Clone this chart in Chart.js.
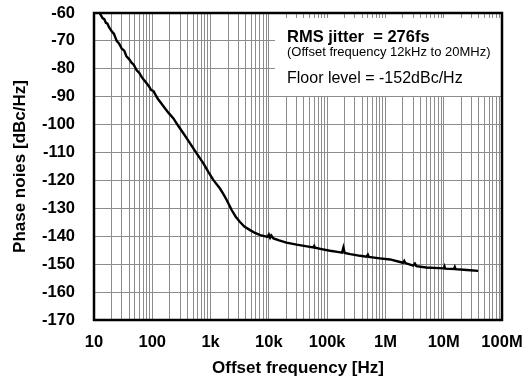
<!DOCTYPE html>
<html>
<head>
<meta charset="utf-8">
<script src="https://cdn.jsdelivr.net/npm/chart.js@4/dist/chart.umd.min.js"></script>
<style>
html,body{margin:0;padding:0;background:#fff;}
#c{display:block;}
</style>
</head>
<body>
<canvas id="c" width="523" height="383"></canvas>
<script>
// Offset frequency [Hz]
const freqHz = [12.5, 14, 15, 16, 17, 18, 20, 22, 24.5, 27, 30, 33, 36, 40, 44, 48, 54, 60, 66, 72, 80, 88, 95, 105, 115, 125, 136, 160, 190, 229, 280, 341, 420, 506, 620, 754, 920, 1120, 1440, 1650, 1890, 2300, 2700, 3170, 3800, 4760, 5800, 7100, 9500, 10000, 10500, 11000, 12000, 15000, 20000, 30000, 45000, 58000, 60000, 62000, 80000, 112000, 150000, 180000, 190000, 200000, 250000, 368000, 475000, 500000, 520000, 800000, 1200000, 2000000, 2100000, 2200000, 3000000, 3200000, 3400000, 5000000, 10000000, 10300000, 10600000, 15000000, 15500000, 16000000, 25000000, 39000000];
// Phase noise [dBc/Hz]
const phaseNoise = [-60, -61.8, -62.2, -63.5, -63.8, -65.0, -66.5, -67.5, -70, -71, -72.8, -73.5, -75.5, -76.5, -77.8, -78.5, -80.5, -81.5, -83, -84, -85.2, -86.3, -87.5, -88, -89.5, -90.8, -91.8, -93.8, -95.8, -97.7, -100.5, -103.1, -105.9, -108.5, -111.3, -113.9, -117, -119.9, -122.8, -124.8, -127.0, -130.6, -133, -134.8, -136.5, -137.8, -138.8, -139.6, -140.2, -139.4, -140.5, -139.7, -140.8, -141.5, -142.3, -143, -143.6, -144.0, -143.5, -144.1, -144.6, -145.2, -145.6, -145.9, -144.0, -146, -146.4, -147.0, -147.3, -146.6, -147.4, -147.9, -148.3, -149.5, -148.8, -149.6, -150.5, -149.8, -150.7, -151.2, -151.5, -150.8, -151.6, -151.7, -151.0, -151.8, -152.1, -152.4];

const xDecades = [10, 100, 1e3, 1e4, 1e5, 1e6, 1e7, 1e8];
const xDecadeLabels = ['10', '100', '1k', '10k', '100k', '1M', '10M', '100M'];
const xMinorMultipliers = [2, 3, 4, 5, 6, 7, 8, 9];
const yMin = -170, yMax = -60, yStep = 10;

const xLabel = 'Offset frequency [Hz]';
const yLabel = 'Phase noies [dBc/Hz]';
const noteLines = ['RMS jitter  = 276fs', '(Offset frequency 12kHz to 20MHz)', 'Floor level = -152dBc/Hz'];

const FONT = "'Liberation Sans', Arial, sans-serif";

const noteBox = {
  id: 'noteBox',
  beforeDatasetsDraw(chart) {
    const a = chart.chartArea, ctx = chart.ctx;
    ctx.save();
    ctx.fillStyle = '#ffffff';
    ctx.fillRect(a.left + 181, a.top + 5, a.right - a.left - 182, 78);
    ctx.fillStyle = '#000';
    ctx.textAlign = 'left';
    ctx.textBaseline = 'alphabetic';
    const tx = a.left + 193;
    ctx.font = "bold 16.5px " + FONT;
    ctx.fillText(noteLines[0], tx, a.top + 29);
    ctx.font = "13px " + FONT;
    ctx.fillText(noteLines[1], tx, a.top + 43);
    ctx.font = "16px " + FONT;
    ctx.fillText(noteLines[2], tx, a.top + 69.5);
    ctx.restore();
  },
  afterDraw(chart) {
    const a = chart.chartArea, ctx = chart.ctx;
    ctx.save();
    ctx.strokeStyle = '#000';
    ctx.lineWidth = 2.5;
    ctx.strokeRect(a.left, a.top, a.right - a.left, a.bottom - a.top);
    ctx.restore();
  }
};

const points = freqHz.map((f, i) => ({x: f, y: phaseNoise[i]}));

new Chart(document.getElementById('c'), {
  type: 'line',
  data: {
    datasets: [{
      data: points,
      borderColor: '#000',
      borderWidth: 2.4,
      pointRadius: 0,
      tension: 0,
      fill: false
    }]
  },
  options: {
    responsive: false,
    devicePixelRatio: 1,
    animation: false,
    layout: {padding: {top: 13, right: 21, left: 0, bottom: 0}},
    plugins: {legend: {display: false}, tooltip: {enabled: false}},
    scales: {
      x: {
        type: 'logarithmic',
        min: 10,
        max: 1e8,
        afterBuildTicks(scale) {
          const t = [];
          xDecades.forEach((d, i) => {
            t.push({value: d});
            if (i < xDecades.length - 1) xMinorMultipliers.forEach(m => t.push({value: d * m}));
          });
          scale.ticks = t;
        },
        afterFit(scale) {
          scale.height = 63;
          scale.paddingLeft = 0;
          scale.paddingRight = 0;
        },
        grid: {color: '#8c8c8c', lineWidth: 1, drawTicks: false},
        border: {display: false},
        ticks: {
          autoSkip: false,
          maxRotation: 0,
          padding: 13,
          color: '#000',
          font: {family: FONT, size: 16.5, weight: 'bold'},
          callback(v) {
            const i = xDecades.findIndex(d => Math.abs(d - v) / d < 1e-9);
            return i >= 0 ? xDecadeLabels[i] : '';
          }
        },
        title: {
          display: true,
          text: xLabel,
          color: '#000',
          font: {family: FONT, size: 17, weight: 'bold'},
          padding: {top: 0, bottom: 4}
        }
      },
      y: {
        type: 'linear',
        min: yMin,
        max: yMax,
        afterFit(scale) {
          scale.width = 94;
          scale.paddingTop = 0;
          scale.paddingBottom = 0;
        },
        grid: {color: '#8c8c8c', lineWidth: 1, drawTicks: false},
        border: {display: false},
        ticks: {
          stepSize: yStep,
          padding: 19,
          color: '#000',
          font: {family: FONT, size: 16.5, weight: 'bold'}
        },
        title: {
          display: true,
          text: yLabel,
          color: '#000',
          font: {family: FONT, size: 17, weight: 'bold'},
          padding: {top: 10, bottom: 0}
        }
      }
    }
  },
  plugins: [noteBox]
});
</script>
</body>
</html>
